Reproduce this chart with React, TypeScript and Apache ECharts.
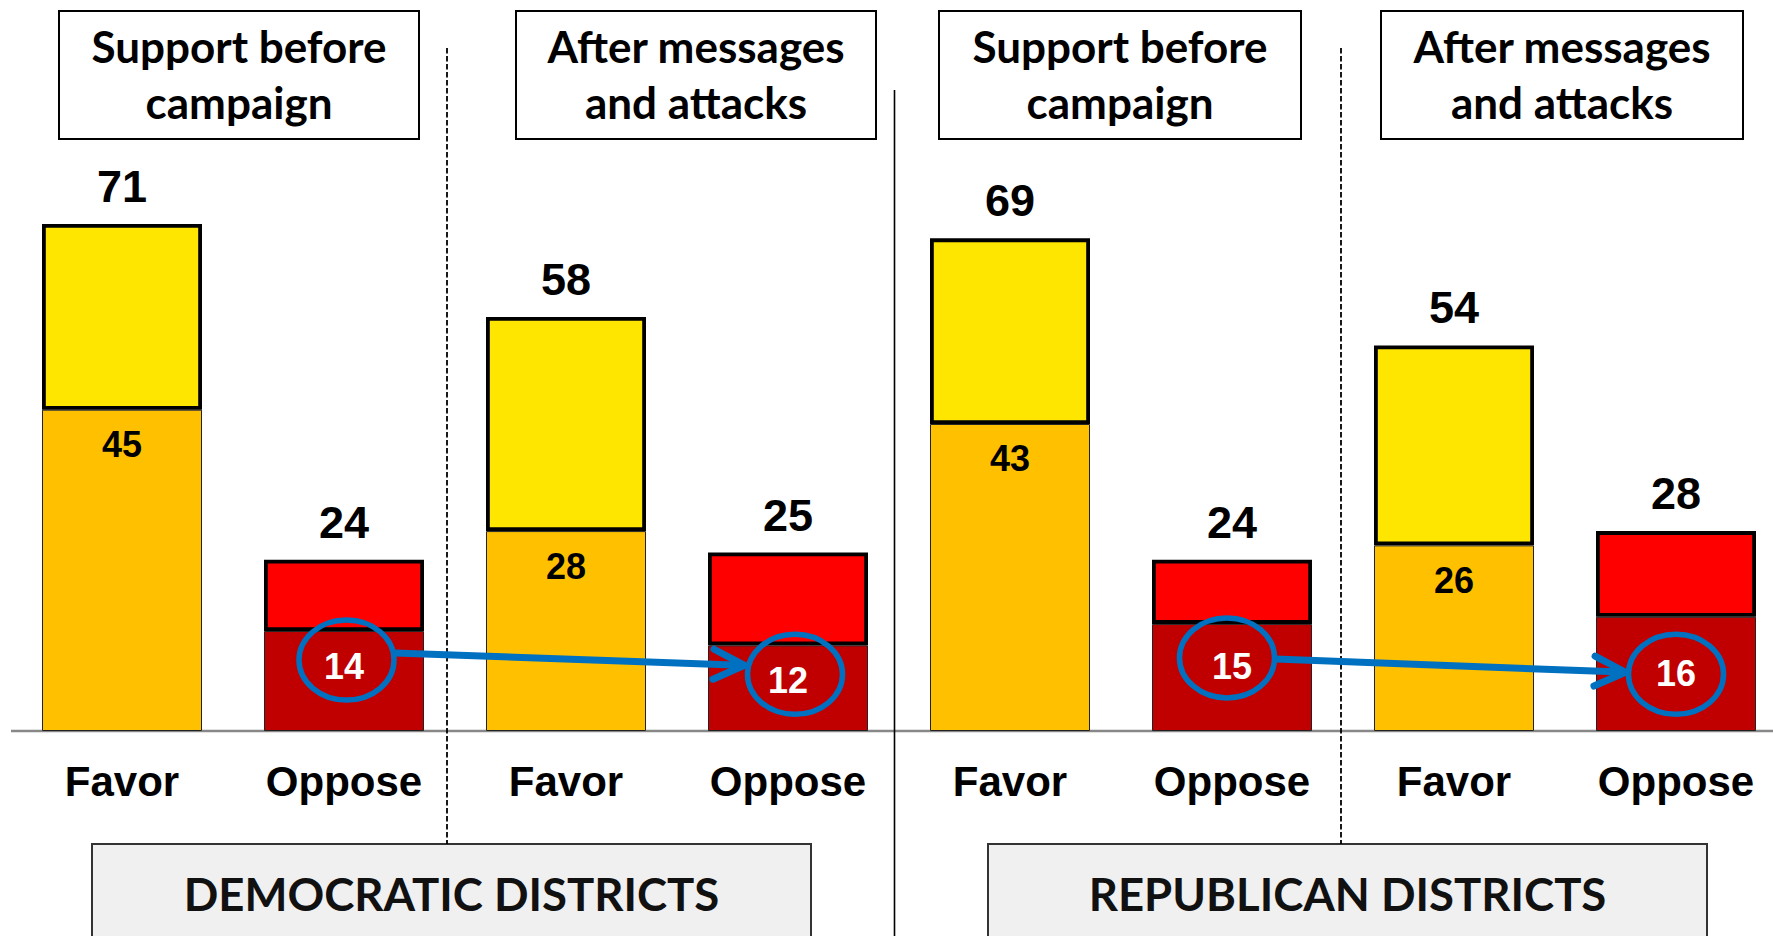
import React, { useEffect, useRef } from "react";
import * as echarts from "echarts";

// ---- data ----
const categories = ["Favor", "Oppose", "Favor", "Oppose", "Favor", "Oppose", "Favor", "Oppose"];
const totals = [71, 24, 58, 25, 69, 24, 54, 28];
const inner = [45, 14, 28, 12, 43, 15, 26, 16];
const panelTitles = [
  "Support before\ncampaign",
  "After messages\nand attacks",
  "Support before\ncampaign",
  "After messages\nand attacks",
];
const districtNames = ["DEMOCRATIC DISTRICTS", "REPUBLICAN DISTRICTS"];
const circledIndices = [1, 3, 5, 7];
const arrowPairs = [
  [0, 1],
  [2, 3],
];

// ---- styles ----
const COLORS = {
  favorLower: "#FFC000",
  favorUpper: "#FFE600",
  opposeLower: "#C00000",
  opposeUpper: "#FF0000",
  blue: "#0070C0",
};
const ARIAL = "'Liberation Sans', Arial, sans-serif";
const CALIBRI = "Lato, 'Open Sans', sans-serif";
const innerLabelOffsets = [[0, 0], [0, 0], [0, 0], [0, 0], [0, 0], [0, 8], [0, 0], [0, 22]];
const circleOffsets = [
  [2.5, 29],
  [7, 29],
  [-5, 34],
  [0, 57.5],
];
const arrowYOffsets = [
  [-7, -9],
  [1, -2],
];
const headerBoxes = [
  [59, 11, 360, 128],
  [516, 11, 360, 128],
  [939, 11, 362, 128],
  [1381, 11, 362, 128],
];
const districtBoxes = [
  [92, 844, 719, 120],
  [988, 844, 719, 120],
];

export default function App() {
  const ref = useRef<HTMLDivElement>(null);

  useEffect(() => {
    if (!ref.current) return;
    const chart = echarts.init(ref.current, null, { renderer: "svg" });

    const isFavor = (i: number) => i % 2 === 0;

    const lowerData = inner.map((v, i) => ({
      value: v,
      itemStyle: { color: isFavor(i) ? COLORS.favorLower : COLORS.opposeLower },
      label: {
        color: isFavor(i) ? "#000" : "#fff",
        offset: innerLabelOffsets[i],
      },
    }));
    const upperData = totals.map((t, i) => ({
      value: t - inner[i],
      itemStyle: { color: isFavor(i) ? COLORS.favorUpper : COLORS.opposeUpper },
    }));

    chart.setOption({
      animation: false,
      backgroundColor: "#fff",
      grid: { left: 122, right: 97, top: 17, bottom: 205, containLabel: false },
      xAxis: {
        type: "category",
        data: categories,
        boundaryGap: false,
        axisLine: { show: false },
        axisTick: { show: false },
        splitLine: { show: false },
        axisLabel: {
          interval: 0,
          margin: 29,
          fontSize: 42,
          fontWeight: "bold",
          fontFamily: ARIAL,
          color: "#000",
        },
      },
      yAxis: { type: "value", min: 0, max: 100, show: false, splitLine: { show: false } },
      series: [
        {
          type: "bar",
          stack: "s",
          barWidth: 160,
          clip: false,
          data: lowerData,
          itemStyle: { borderColor: "#222", borderWidth: 1 },
          label: {
            show: true,
            position: "insideTop",
            distance: 17,
            fontSize: 36,
            fontWeight: "bold",
            fontFamily: ARIAL,
          },
          z: 2,
        },
        {
          type: "bar",
          stack: "s",
          barWidth: 160,
          clip: false,
          data: upperData,
          itemStyle: { borderColor: "#000", borderWidth: 3.8 },
          label: {
            show: true,
            position: "top",
            distance: 15,
            fontSize: 45,
            fontWeight: "bold",
            fontFamily: ARIAL,
            color: "#000",
            formatter: (p: any) => String(totals[p.dataIndex]),
          },
          z: 3,
        },
      ],
    });

    const px = (i: number, v: number) =>
      chart.convertToPixel({ xAxisIndex: 0, yAxisIndex: 0 }, [i, v]) as number[];

    const graphics: any[] = [];

    // baseline (category axis line across the full width)
    const baseY = px(0, 0)[1];
    graphics.push({
      type: "line",
      z: 1,
      shape: { x1: 11, y1: baseY, x2: 1773, y2: baseY },
      style: { stroke: "#888", lineWidth: 2.5 },
    });

    // header boxes
    headerBoxes.forEach(([x, y, w, h], k) => {
      graphics.push({
        type: "rect",
        z: 100,
        shape: { x, y, width: w, height: h },
        style: { fill: "#fff", stroke: "#000", lineWidth: 2 },
      });
      graphics.push({
        type: "text",
        z: 101,
        x: x + w / 2,
        y: 74,
        style: {
          text: panelTitles[k],
          fill: "#000",
          fontSize: 44,
          fontWeight: "bold",
          fontFamily: CALIBRI,
          align: "center",
          verticalAlign: "middle",
          lineHeight: 56,
        },
      });
    });

    // district boxes
    districtBoxes.forEach(([x, y, w, h], k) => {
      graphics.push({
        type: "rect",
        z: 100,
        shape: { x, y, width: w, height: h },
        style: { fill: "#F0F0F0", stroke: "#333", lineWidth: 2 },
      });
      graphics.push({
        type: "text",
        z: 101,
        x: x + w / 2,
        y: 893,
        style: {
          text: districtNames[k],
          fill: "#111",
          fontSize: 45.5,
          fontWeight: "bold",
          fontFamily: CALIBRI,
          align: "center",
          verticalAlign: "middle",
        },
      });
    });

    // separators
    [447, 1341].forEach((x) => {
      graphics.push({
        type: "line",
        z: 100,
        shape: { x1: x, y1: 48, x2: x, y2: 844 },
        style: { stroke: "#000", lineWidth: 1.8, lineDash: [5.5, 2.5] },
      });
    });
    graphics.push({
      type: "line",
      z: 100,
      shape: { x1: 894.5, y1: 90, x2: 894.5, y2: 936 },
      style: { stroke: "#000", lineWidth: 1.6 },
    });

    // circles around the "oppose" inner values
    const RX = 47.5;
    const RY = 40;
    const centers = circledIndices.map((ci, k) => {
      const p = px(ci, inner[ci]);
      return [p[0] + circleOffsets[k][0], p[1] + circleOffsets[k][1]];
    });
    centers.forEach(([cx, cy]) => {
      graphics.push({
        type: "ellipse",
        z: 110,
        shape: { cx, cy, rx: RX, ry: RY },
        style: { fill: "none", stroke: COLORS.blue, lineWidth: 5.5 },
      });
    });

    // arrows
    arrowPairs.forEach(([a, b], k) => {
      const [ax, ay] = centers[a];
      const [bx, by] = centers[b];
      const x1 = ax + RX + 1;
      const y1 = ay + arrowYOffsets[k][0];
      const x2 = bx - RX - 3;
      const y2 = by + arrowYOffsets[k][1];
      const dx = x2 - x1;
      const dy = y2 - y1;
      const len = Math.sqrt(dx * dx + dy * dy);
      const ux = dx / len;
      const uy = dy / len;
      const back = 31;
      const half = 15;
      const bxp = x2 - ux * back;
      const byp = y2 - uy * back;
      graphics.push({
        type: "line",
        z: 110,
        shape: { x1, y1, x2: x2 - ux * 4, y2: y2 - uy * 4 },
        style: { stroke: COLORS.blue, lineWidth: 7, lineCap: "butt" },
      });
      graphics.push({
        type: "polyline",
        z: 110,
        shape: {
          points: [
            [bxp - uy * half, byp + ux * half],
            [x2, y2],
            [bxp + uy * half, byp - ux * half],
          ],
        },
        style: { stroke: COLORS.blue, lineWidth: 7, fill: "none", lineCap: "round", lineJoin: "round" },
      });
    });

    chart.setOption({ graphic: graphics });

    return () => chart.dispose();
  }, []);

  return (
    <div
      ref={ref}
      style={{ position: "absolute", left: 0, top: 0, width: 1773, height: 936, background: "#fff" }}
    />
  );
}
